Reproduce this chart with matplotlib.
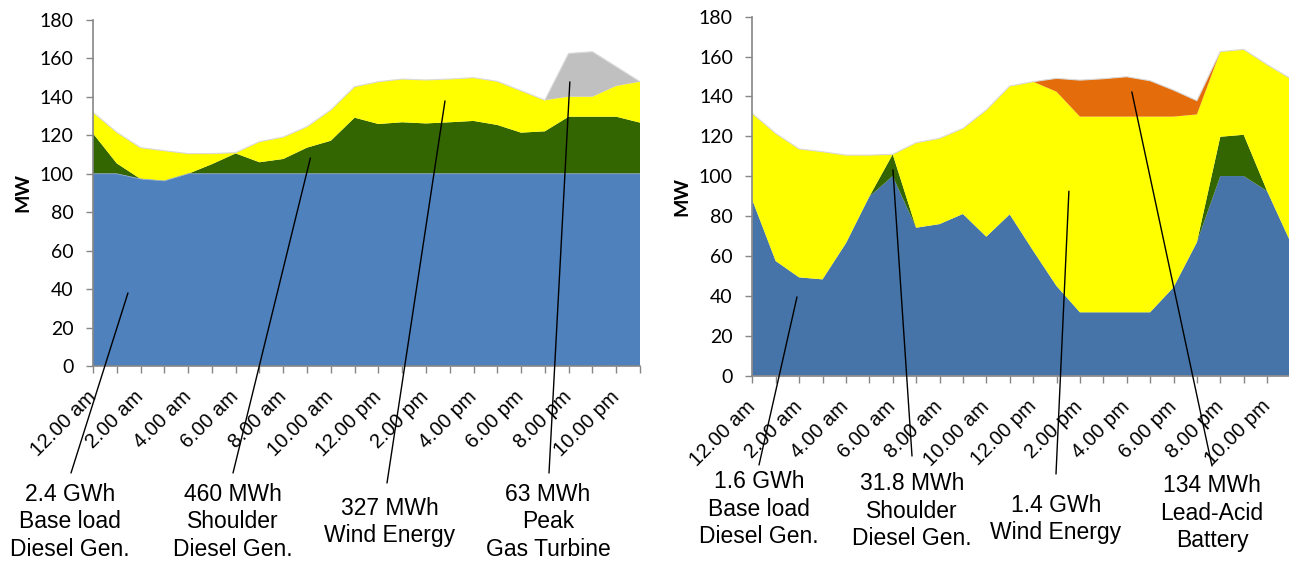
import matplotlib
matplotlib.use("Agg")
import matplotlib.pyplot as plt
import numpy as np

# ---------------- data ----------------
hours = list(range(24))
tick_labels = ["12.00 am", "2.00 am", "4.00 am", "6.00 am", "8.00 am", "10.00 am",
               "12.00 pm", "2.00 pm", "4.00 pm", "6.00 pm", "8.00 pm", "10.00 pm"]

# Left chart (conventional mix), MW
left_base = [100, 100, 97.3, 96.3, 100, 100, 100, 100, 100, 100, 100, 100,
             100, 100, 100, 100, 100, 100, 100, 100, 100, 100, 100, 100]
left_shoulder = [21, 5.4, 0, 0, 0, 5, 10.6, 6, 7.7, 13.6, 17.2, 29.2,
                 25.9, 26.8, 26.2, 26.8, 27.5, 25.4, 21.4, 22.1, 29.7, 29.7, 29.7, 26.6]
left_wind = [11, 16.2, 16.3, 15.7, 10.5, 5.5, 0.4, 10.7, 11.4, 10.9, 16, 16.1,
             22, 22.5, 22.6, 22.5, 22.5, 22.7, 21.8, 16.2, 10.4, 10.4, 16, 21.3]
left_gas = [0, 0, 0, 0, 0, 0, 0, 0, 0, 0, 0, 0,
            0, 0, 0, 0, 0, 0, 0, 0, 22.5, 23.4, 10, 0]

# Right chart (high wind + battery), MW
right_base = [88.1, 57.5, 49.3, 48.3, 66.4, 89.8, 100.1, 74.2, 76, 81.1, 69.7, 80.9,
              62.7, 45, 31.8, 31.8, 31.8, 31.8, 44.3, 66.9, 100.1, 100.1, 92.6, 67]
right_shoulder = [0, 0, 0, 0, 0, 0, 10.9, 0, 0, 0, 0, 0,
                  0, 0, 0, 0, 0, 0, 0, 0, 19.7, 20.7, 0, 0]
right_wind = [43.4, 64, 64.4, 64, 44.2, 20.8, 0, 42.6, 43, 42.9, 63.5, 64.3,
              84.7, 97.4, 98.1, 98.1, 98.1, 98.1, 85.6, 64.1, 42.7, 42.8, 63.4, 82]
right_battery = [0, 0, 0, 0, 0, 0, 0, 0, 0, 0, 0, 0,
                 0, 6.7, 18.3, 19, 20, 18, 13.3, 6.9, 0, 0, 0, 0]

left_labels = ["2.4 GWh\nBase load\nDiesel Gen.", "460 MWh\nShoulder\nDiesel Gen.",
               "327 MWh\nWind Energy", "63 MWh\nPeak\nGas Turbine"]
right_labels = ["1.6 GWh\nBase load\nDiesel Gen.", "31.8 MWh\nShoulder\nDiesel Gen.",
                "1.4 GWh\nWind Energy", "134 MWh\nLead-Acid\nBattery"]

# ---------------- styling ----------------
W, H = 1289, 563
fig = plt.figure(figsize=(W / 100, H / 100), dpi=100)

ax1 = fig.add_axes([93 / W, (H - 366) / H, (640 - 93) / W, (366 - 20) / H])
ax2 = fig.add_axes([752.3 / W, (H - 375.7) / H, 538.2 / W, (375.7 - 16.7) / H])

grey_axis = "#868686"


def style(ax):
    ax.set_xlim(0, 23)
    ax.set_ylim(0, 180)
    ax.set_yticks(np.arange(0, 181, 20))
    ax.set_xticks(hours)
    ax.set_xticklabels([tick_labels[i // 2] if i % 2 == 0 else "" for i in hours],
                       rotation=45, ha="right", va="center", rotation_mode="anchor",
                       fontsize=14.5, family="Liberation Sans")
    for lab in ax.get_yticklabels():
        lab.set_family("Lato")
        lab.set_fontsize(14)
    ax.tick_params(axis="x", direction="out", length=5, width=1, color=grey_axis, pad=15)
    ax.tick_params(axis="y", direction="out", length=5, width=1, color=grey_axis, pad=9)
    for s in ["top", "right"]:
        ax.spines[s].set_visible(False)
    for s in ["left", "bottom"]:
        ax.spines[s].set_color(grey_axis)
        ax.spines[s].set_linewidth(1.2)
        ax.spines[s].set_zorder(5)
    ax.set_ylabel("MW", fontsize=14, fontweight="bold", family="Lato", labelpad=6)


ax1.stackplot(hours, left_base, left_shoulder, left_wind, left_gas,
              colors=["#4F81BD", "#336600", "#FFFF00", "#C0C0C0"], linewidth=0)
tot1 = np.sum([left_base, left_shoulder, left_wind, left_gas], axis=0)
ax1.plot(hours, tot1, color="#D9D9D9", lw=0.8)
ax1.plot(hours, np.array(left_base), color="#8EA9CF", lw=0.6)
style(ax1)

ax2.stackplot(hours, right_base, right_shoulder, right_wind, right_battery,
              colors=["#4674A8", "#336600", "#FFFF00", "#E46C0A"], linewidth=0)
tot2 = np.sum([right_base, right_shoulder, right_wind, right_battery], axis=0)
ax2.plot(hours, tot2, color="#D9D9D9", lw=0.8)
style(ax2)

# ---------------- annotations ----------------
left_pts = [(1.47, 38), (9.14, 108.2), (14.8, 137.9), (20.05, 147.8)]
left_line_start = [(71, 473), (233, 473), (387, 483), (549, 473)]
left_text_pos = [(70, 522), (233, 522), (390, 522), (548, 522)]

right_pts = [(1.91, 39.5), (6.01, 103.2), (13.53, 92.5), (16.22, 142.3)]
right_line_start = [(759, 465), (912, 456), (1056, 474), (1212, 466)]
right_text_pos = [(759, 509), (912, 511), (1056, 519), (1212, 513)]

for ax, pts, starts, tpos, labels in [
    (ax1, left_pts, left_line_start, left_text_pos, left_labels),
    (ax2, right_pts, right_line_start, right_text_pos, right_labels),
]:
    for (px, py), (sx, sy), (tx, ty), lab in zip(pts, starts, tpos, labels):
        ax.annotate("", xy=(px, py), xytext=(sx, H - sy), textcoords="figure pixels",
                    arrowprops=dict(arrowstyle="-", color="black", lw=1.0,
                                    shrinkA=0, shrinkB=0),
                    annotation_clip=False, zorder=10)
        fig.text(tx / W, (H - ty) / H, lab, ha="center", va="center",
                 multialignment="center", fontsize=16.5, family="Liberation Sans",
                 linespacing=1.25)

fig.savefig("out.png", dpi=100)
